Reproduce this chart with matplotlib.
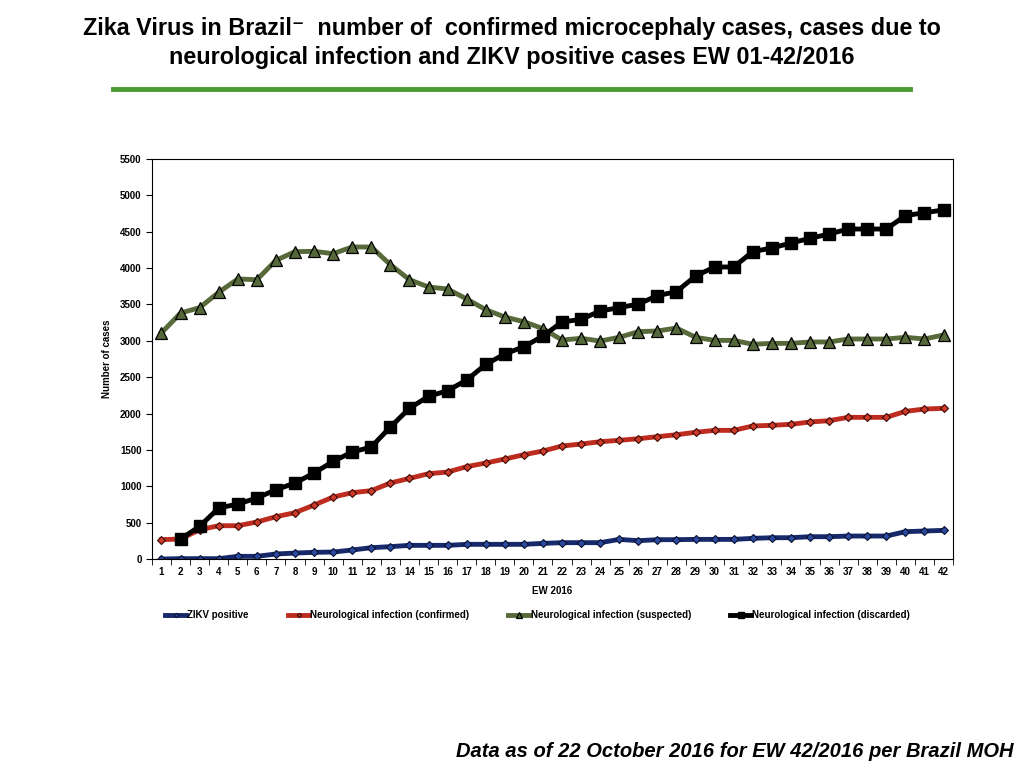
import matplotlib.pyplot as plt
import numpy as np

weeks = np.arange(1, 43)

zikv = [0, 5, 5, 5, 37, 37, 69, 82, 92, 96, 124, 156, 170, 188, 188, 188, 202, 202, 202, 202, 215,
        225, 225, 225, 270, 252, 266, 266, 270, 270, 270, 284, 293, 293, 307, 307, 316, 316, 316, 376, 385, 394]
confirmed = [266, 275, 403, 458, 458, 509, 582, 637, 742, 852, 912, 940, 1045, 1109, 1173, 1196, 1270,
             1320, 1375, 1434, 1485, 1554, 1581, 1613, 1632, 1654, 1682, 1709, 1742, 1769, 1769, 1829,
             1838, 1852, 1884, 1902, 1948, 1948, 1948, 2030, 2062, 2072]
suspected = [3110, 3382, 3456, 3667, 3850, 3840, 4106, 4226, 4230, 4198, 4290, 4290, 4047, 3840, 3740,
             3712, 3575, 3428, 3327, 3263, 3167, 3011, 3034, 2997, 3048, 3126, 3135, 3176, 3048, 3006,
             3006, 2952, 2965, 2965, 2984, 2984, 3025, 3025, 3025, 3048, 3025, 3080]
discarded = [np.nan, 275, 449, 701, 756, 839, 953, 1045, 1182, 1343, 1471, 1540, 1815, 2072, 2237, 2314,
             2461, 2676, 2819, 2919, 3066, 3259, 3295, 3410, 3456, 3506, 3621, 3676, 3891, 4015, 4015,
             4226, 4276, 4345, 4409, 4468, 4537, 4537, 4537, 4720, 4762, 4798]

plt.rcParams['font.family'] = ['Liberation Sans', 'DejaVu Sans']

fig = plt.figure(figsize=(10.24, 7.68), dpi=100)
ax = fig.add_axes([0.1484, 0.2721, 0.7823, 0.5209])

ax.plot(weeks, zikv, color='#15296b', lw=3.5, marker='D', ms=4.5, mfc='#2a4aa0', mec='#0a1030', mew=0.8,
        label='ZIKV positive')
ax.plot(weeks, confirmed, color='#bd2c1f', lw=3.5, marker='D', ms=4.5, mfc='#d03a2a', mec='#3a0a05', mew=0.8,
        label='Neurological infection (confirmed)')
ax.plot(weeks, suspected, color='#58693a', lw=3.5, marker='^', ms=8.5, mfc='#55683a', mec='black', mew=0.9,
        label='Neurological infection (suspected)')
ax.plot(weeks, discarded, color='black', lw=3.5, marker='s', ms=8.5, mfc='black', mec='black',
        label='Neurological infection (discarded)')

ax.set_xlim(0.5, 42.5)
ax.set_ylim(0, 5500)
ax.set_yticks(np.arange(0, 5501, 500))
ax.set_xticks(weeks)
ax.set_xticks(np.arange(0.5, 43, 1), minor=True)
ax.tick_params(axis='x', which='major', length=0, pad=6)
ax.tick_params(axis='x', which='minor', length=4, direction='out')
ax.tick_params(axis='y', length=4, direction='out')
for lab in ax.get_xticklabels() + ax.get_yticklabels():
    lab.set_fontsize(7)
    lab.set_fontweight('bold')

ax.set_xlabel('EW 2016', fontsize=7, fontweight='bold', labelpad=6)
ax.set_ylabel('Number of cases', fontsize=7, fontweight='bold', labelpad=6)

ax.legend(loc='center', bbox_to_anchor=(0.525, 0.199), bbox_transform=fig.transFigure, ncol=4,
          frameon=False, prop={'weight': 'bold', 'size': 7}, handlelength=2.2,
          handletextpad=0.1, columnspacing=4.0, markerscale=0.5)

fig.text(0.5, 0.963, 'Zika Virus in Brazil\u207b  number of  confirmed microcephaly cases, cases due to',
         ha='center', va='center', fontsize=16.8, fontweight='bold')
fig.text(0.5, 0.925, 'neurological infection and ZIKV positive cases EW 01-42/2016',
         ha='center', va='center', fontsize=16.8, fontweight='bold')
fig.add_artist(plt.Line2D([0.110, 0.889], [0.884, 0.884], color='#4a9b33', lw=3.5))

fig.text(0.718, 0.021, 'Data as of 22 October 2016 for EW 42/2016 per Brazil MOH',
         ha='center', va='center', fontsize=14.5, fontweight='bold', style='italic')

fig.savefig('out.png', dpi=100)
